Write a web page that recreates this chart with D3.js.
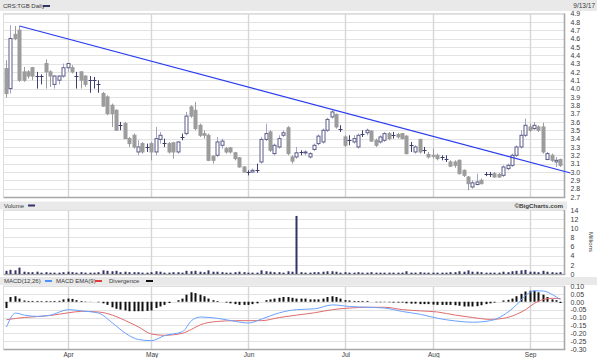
<!DOCTYPE html>
<html><head><meta charset="utf-8">
<script src="https://cdn.jsdelivr.net/npm/d3@7/dist/d3.min.js"></script>
<style>
body{margin:0;background:#fff}
svg{display:block}
text{font-family:"Liberation Sans",Arial,sans-serif;fill:#3a3a3a}
</style></head><body>
<svg id="c" width="597" height="358"></svg>
<script>
const dates = ["2017-03-14","2017-03-15","2017-03-16","2017-03-17","2017-03-20","2017-03-21","2017-03-22","2017-03-23","2017-03-24","2017-03-27","2017-03-28","2017-03-29","2017-03-30","2017-03-31",
"2017-04-03","2017-04-04","2017-04-05","2017-04-06","2017-04-07","2017-04-10","2017-04-11","2017-04-12","2017-04-13","2017-04-17","2017-04-18","2017-04-19","2017-04-20","2017-04-21","2017-04-24","2017-04-25","2017-04-26","2017-04-27","2017-04-28",
"2017-05-01","2017-05-02","2017-05-03","2017-05-04","2017-05-05","2017-05-08","2017-05-09","2017-05-10","2017-05-11","2017-05-12","2017-05-15","2017-05-16","2017-05-17","2017-05-18","2017-05-19","2017-05-23","2017-05-24","2017-05-25","2017-05-26","2017-05-29","2017-05-30","2017-05-31",
"2017-06-01","2017-06-02","2017-06-05","2017-06-06","2017-06-07","2017-06-08","2017-06-09","2017-06-12","2017-06-13","2017-06-14","2017-06-15","2017-06-16","2017-06-19","2017-06-20","2017-06-21","2017-06-22","2017-06-23","2017-06-26","2017-06-27","2017-06-28","2017-06-29","2017-06-30",
"2017-07-04","2017-07-05","2017-07-06","2017-07-07","2017-07-10","2017-07-11","2017-07-12","2017-07-13","2017-07-14","2017-07-17","2017-07-18","2017-07-19","2017-07-20","2017-07-21","2017-07-24","2017-07-25","2017-07-26","2017-07-27","2017-07-28","2017-07-31",
"2017-08-01","2017-08-02","2017-08-03","2017-08-04","2017-08-08","2017-08-09","2017-08-10","2017-08-11","2017-08-14","2017-08-15","2017-08-16","2017-08-17","2017-08-18","2017-08-21","2017-08-22","2017-08-23","2017-08-24","2017-08-25","2017-08-28","2017-08-29","2017-08-30","2017-08-31",
"2017-09-01","2017-09-05","2017-09-06","2017-09-07","2017-09-08","2017-09-11","2017-09-12","2017-09-13"];

const open  = [4.24,4.00,4.65,4.70,4.20,4.20,4.25,4.15,4.15,4.30,4.20,4.05,4.10,4.15,4.25,4.25,4.15,4.20,4.15,4.10,4.10,4.05,3.94,3.90,3.80,3.74,3.56,3.58,3.40,3.44,3.24,3.34,3.30,
3.34,3.24,3.39,3.35,3.34,3.35,3.24,3.42,3.46,3.78,3.74,3.56,3.46,3.44,3.19,3.20,3.32,3.28,3.29,3.23,3.17,3.06,
3.00,3.00,3.02,3.12,3.39,3.48,3.22,3.30,3.44,3.53,3.18,3.18,3.24,3.23,3.18,3.27,3.34,3.36,3.50,3.66,3.69,3.52,
3.42,3.38,3.36,3.30,3.46,3.47,3.49,3.38,3.36,3.38,3.46,3.44,3.45,3.46,3.43,3.32,3.24,3.39,3.26,3.21,
3.20,3.20,3.18,3.16,3.12,3.12,3.14,3.02,2.94,2.82,2.85,2.90,2.98,2.97,2.98,2.97,2.96,3.04,3.08,3.20,3.30,3.44,
3.54,3.52,3.54,3.54,3.15,3.20,3.12,3.15];
const high  = [4.34,4.76,4.75,4.75,4.26,4.22,4.26,4.20,4.17,4.35,4.22,4.16,4.16,4.30,4.30,4.28,4.20,4.21,4.16,4.15,4.14,4.10,3.96,3.92,3.82,3.75,3.60,3.60,3.42,3.46,3.38,3.36,3.34,
3.36,3.54,3.48,3.40,3.36,3.36,3.37,3.46,3.72,3.80,3.84,3.58,3.50,3.46,3.20,3.42,3.40,3.30,3.30,3.24,3.18,3.07,
3.02,3.04,3.10,3.42,3.58,3.50,3.34,3.44,3.50,3.55,3.20,3.30,3.26,3.26,3.24,3.34,3.45,3.52,3.65,3.74,3.70,3.56,
3.44,3.44,3.44,3.46,3.50,3.52,3.50,3.40,3.44,3.48,3.48,3.48,3.47,3.47,3.44,3.36,3.32,3.40,3.30,3.24,
3.28,3.22,3.20,3.20,3.14,3.14,3.15,3.03,2.95,2.90,2.98,2.92,3.00,3.00,3.00,2.99,3.08,3.10,3.22,3.32,3.50,3.64,
3.58,3.60,3.56,3.59,3.24,3.22,3.18,3.16];
const low   = [3.89,3.94,4.58,4.08,4.08,4.12,4.10,4.00,4.05,4.00,4.02,4.00,4.05,4.13,4.20,4.18,4.00,4.00,4.02,3.95,4.00,3.95,3.78,3.68,3.54,3.50,3.50,3.40,3.30,3.28,3.20,3.22,3.24,
3.14,3.20,3.34,3.30,3.22,3.16,3.22,3.38,3.44,3.65,3.50,3.42,3.40,3.13,3.10,3.18,3.28,3.22,3.22,3.14,3.05,2.99,
2.96,2.99,2.99,3.10,3.37,3.24,3.20,3.28,3.42,3.20,3.10,3.16,3.20,3.20,3.16,3.25,3.32,3.34,3.48,3.64,3.52,3.48,
3.30,3.32,3.34,3.28,3.42,3.44,3.36,3.30,3.34,3.36,3.38,3.40,3.40,3.39,3.21,3.24,3.22,3.22,3.22,3.16,
3.16,3.14,3.14,3.12,3.06,3.05,2.97,2.94,2.78,2.80,2.84,2.85,2.95,2.94,2.93,2.93,2.94,3.02,3.06,3.18,3.28,3.42,
3.48,3.50,3.48,3.22,3.14,3.12,3.06,3.06];
const close = [3.94,4.60,4.60,4.10,4.10,4.15,4.15,4.15,4.15,4.20,4.15,4.15,4.15,4.25,4.30,4.20,4.15,4.10,4.05,4.10,4.10,4.05,3.79,3.70,3.70,3.50,3.56,3.40,3.34,3.30,3.30,3.24,3.30,
3.24,3.40,3.44,3.35,3.24,3.24,3.36,3.42,3.67,3.67,3.52,3.44,3.44,3.14,3.14,3.36,3.37,3.24,3.24,3.16,3.06,3.00,
3.00,3.02,3.02,3.39,3.46,3.26,3.32,3.40,3.47,3.22,3.13,3.23,3.24,3.24,3.22,3.32,3.43,3.50,3.63,3.72,3.54,3.52,
3.32,3.38,3.40,3.44,3.46,3.50,3.37,3.32,3.42,3.46,3.40,3.44,3.42,3.40,3.22,3.32,3.30,3.24,3.26,3.18,
3.19,3.16,3.18,3.16,3.07,3.08,2.98,2.96,2.86,2.87,2.88,2.86,2.98,2.97,2.94,2.94,3.06,3.08,3.20,3.30,3.44,3.56,
3.50,3.56,3.50,3.24,3.22,3.14,3.14,3.08];

const volume = [0.7,0.9,0.8,1.4,0.5,0.4,0.4,0.5,0.3,0.4,0.3,0.3,0.3,0.4,0.5,0.4,0.3,0.4,0.3,0.3,0.3,0.4,0.8,0.7,0.6,0.7,0.4,0.5,0.4,0.4,0.4,0.3,0.3,
0.4,0.6,0.5,0.3,0.3,0.4,0.4,0.3,0.7,0.6,0.7,0.5,0.4,0.8,0.5,0.5,0.4,0.3,0.3,0.4,0.5,0.4,
0.3,0.3,0.3,0.8,0.6,0.5,0.4,0.4,0.3,0.6,0.5,12.7,0.4,0.3,0.3,0.4,0.4,0.5,0.6,0.6,0.5,0.3,
0.4,0.3,0.3,0.4,0.3,0.3,0.4,0.3,0.3,0.3,0.3,0.3,0.3,0.3,0.6,0.3,0.3,0.4,0.3,0.3,
0.3,0.3,0.3,0.3,0.4,0.4,0.6,0.5,0.8,0.5,0.5,0.4,0.3,0.3,0.3,0.3,0.5,0.4,0.6,0.7,0.8,0.9,
0.5,0.5,0.4,0.7,0.5,0.4,0.3,0.4];

const macdDates = ["2017-03-14","2017-03-16","2017-03-20","2017-03-23","2017-03-28","2017-04-03","2017-04-06","2017-04-12","2017-04-18","2017-04-21","2017-04-26","2017-05-01","2017-05-04","2017-05-10","2017-05-12","2017-05-16","2017-05-23","2017-05-29","2017-06-01","2017-06-06","2017-06-12","2017-06-16","2017-06-22","2017-06-28","2017-07-05","2017-07-11","2017-07-17","2017-07-21","2017-07-27","2017-08-02","2017-08-09","2017-08-15","2017-08-21","2017-08-24","2017-08-29","2017-08-31","2017-09-05","2017-09-07","2017-09-11","2017-09-13"];
const macdLine = [-0.160,-0.072,-0.085,-0.093,-0.085,-0.050,-0.058,-0.072,-0.135,-0.200,-0.240,-0.247,-0.215,-0.190,-0.120,-0.097,-0.105,-0.125,-0.135,-0.110,-0.070,-0.050,-0.045,-0.020,-0.030,-0.035,-0.040,-0.062,-0.080,-0.105,-0.122,-0.130,-0.120,-0.085,-0.020,0.040,0.070,0.068,0.045,0.013];
const signalLine = [-0.114,-0.106,-0.100,-0.094,-0.087,-0.070,-0.061,-0.065,-0.085,-0.120,-0.160,-0.205,-0.213,-0.200,-0.175,-0.146,-0.125,-0.120,-0.120,-0.120,-0.100,-0.085,-0.070,-0.050,-0.040,-0.035,-0.035,-0.050,-0.058,-0.065,-0.085,-0.100,-0.112,-0.105,-0.080,-0.050,-0.010,0.015,0.022,0.020];
const divergence = [-0.040,0.030,0.035,0.020,0.008,0.005,0.005,0.005,0.004,0.005,0.004,0.005,0.006,0.015,0.020,0.018,0.010,0.005,0.002,0.001,0.000,-0.003,-0.010,-0.020,-0.035,-0.045,-0.050,-0.055,-0.060,-0.060,-0.060,-0.060,-0.058,
-0.055,-0.040,-0.030,-0.020,-0.008,0.000,0.010,0.020,0.045,0.060,0.055,0.045,0.035,0.020,0.010,0.005,0.000,-0.005,-0.010,-0.015,-0.020,-0.020,
-0.020,-0.015,-0.010,0.000,0.010,0.015,0.020,0.025,0.030,0.030,0.025,0.020,0.020,0.020,0.015,0.015,0.015,0.020,0.030,0.035,0.030,0.020,
0.010,0.008,0.005,0.005,0.005,0.005,0.000,-0.003,-0.003,-0.002,-0.003,-0.005,-0.005,-0.005,-0.010,-0.012,-0.012,-0.015,-0.015,-0.015,
-0.018,-0.020,-0.020,-0.020,-0.020,-0.022,-0.025,-0.030,-0.030,-0.030,-0.028,-0.022,-0.015,-0.010,-0.005,0.000,0.008,0.012,0.020,0.035,0.050,0.065,
0.070,0.070,0.060,0.045,0.030,0.015,0.010,-0.008];

const priceTicks = [4.9,4.8,4.7,4.6,4.5,4.4,4.3,4.2,4.1,4.0,3.9,3.8,3.7,3.6,3.5,3.4,3.3,3.2,3.1,3.0,2.9,2.8,2.7];
const volTicks = [0,2,4,6,8,10,12,14];
const macdTicks = [0.10,0.05,0.00,-0.05,-0.10,-0.15,-0.20,-0.25,-0.30];
const monthLabels = ["Apr","May","Jun","Jul","Aug","Sep"];
const trendDates = ["2017-03-17","2017-09-13"];
const trendValues = [4.75,3.02];
const symbol = "CRS:TGB Daily", lastDate = "9/13/17";

// ---------- drawing ----------
const svg = d3.select("#c");
const L = 3.5, R = 564.5;
const xi = d3.scaleLinear().domain([0, dates.length-1]).range([6, 560.4]);
const x = d => Math.round(xi(dates.indexOf(d))) + 0.5;
const yP = d3.scaleLinear().domain([2.7,4.9]).range([197,13.5]);
const yV = d3.scaleLinear().domain([0,14]).range([274,210]);
const yM = d3.scaleLinear().domain([-0.3,0.1]).range([349,286]);
const panels = [{t:13.5,b:197},{t:210,b:274},{t:286,b:349}];

// header strips
svg.append("rect").attr("x",0).attr("y",0).attr("width",597).attr("height",11).attr("fill","#e9e9e9");
svg.append("rect").attr("x",0).attr("y",201.5).attr("width",567).attr("height",8).attr("fill","#e9e9e9");
svg.append("rect").attr("x",0).attr("y",277).attr("width",597).attr("height",8).attr("fill","#e9e9e9");

// horizontal grids
const hgrid = (ticks, y) => svg.append("g").selectAll("line").data(ticks).join("line")
  .attr("x1",L).attr("x2",R).attr("y1",d=>Math.round(y(d))+0.5).attr("y2",d=>Math.round(y(d))+0.5)
  .attr("stroke","#e3e3e3").attr("stroke-width",1);
hgrid(priceTicks, yP); hgrid(volTicks, yV); hgrid(macdTicks, yM);

// month starts
const monthStarts = dates.filter((d,i)=> i>0 && d.slice(5,7)!==dates[i-1].slice(5,7));
panels.forEach(p=>{
  svg.append("g").selectAll("line").data(monthStarts).join("line")
    .attr("x1",d=>x(d)).attr("x2",d=>x(d)).attr("y1",p.t).attr("y2",p.b)
    .attr("stroke","#d6d6d6").attr("stroke-width",1.4);
});

// frames
panels.forEach(p=>{
  svg.append("line").attr("x1",L).attr("x2",R).attr("y1",p.t).attr("y2",p.t).attr("stroke","#dcdcdc");
  svg.append("line").attr("x1",L).attr("x2",L).attr("y1",p.t).attr("y2",p.b).attr("stroke","#dcdcdc");
  svg.append("line").attr("x1",R).attr("x2",R).attr("y1",p.t).attr("y2",p.b+1).attr("stroke","#a8a8a8").attr("stroke-width",1.6);
  svg.append("line").attr("x1",L).attr("x2",R+0.8).attr("y1",p.b+0.5).attr("y2",p.b+0.5).attr("stroke","#a8a8a8").attr("stroke-width",1.6);
});

// candles
const cd = dates.map((d,i)=>({d,o:open[i],h:high[i],l:low[i],c:close[i]}));
const g = svg.append("g");
g.selectAll("line.w").data(cd).join("line").attr("class","w")
  .attr("x1",d=>x(d.d)).attr("x2",d=>x(d.d))
  .attr("y1",d=>yP(d.h)).attr("y2",d=>yP(d.l))
  .attr("stroke",d=> d.o===d.c ? "#3e3e70" : (d.c>d.o ? "#a4a4c8" : "#9c9c9c")).attr("stroke-width",1);
g.selectAll("rect.b").data(cd.filter(d=>d.o!==d.c)).join("rect").attr("class","b")
  .attr("x",d=>x(d.d)-1.5).attr("width",3)
  .attr("y",d=>yP(Math.max(d.o,d.c))).attr("height",d=>Math.max(1,Math.abs(yP(d.o)-yP(d.c))))
  .attr("fill",d=>d.c>d.o ? "#fff" : "#9c9c9c")
  .attr("stroke",d=>d.c>d.o ? "#5a5a88" : "#9c9c9c").attr("stroke-width",1);
g.selectAll("line.dj").data(cd.filter(d=>d.o===d.c)).join("line").attr("class","dj")
  .attr("x1",d=>x(d.d)-2).attr("x2",d=>x(d.d)+2)
  .attr("y1",d=>Math.round(yP(d.o))+0.5).attr("y2",d=>Math.round(yP(d.o))+0.5)
  .attr("stroke","#3e3e70").attr("stroke-width",1);

// trend line (extended a little beyond last bar like the original)
const t0 = {x:x(trendDates[0]), y:yP(trendValues[0])};
const t1 = {x:x(trendDates[1]), y:yP(trendValues[1])};
const slope = (t1.y-t0.y)/(t1.x-t0.x);
const tEndX = R + 6;
svg.append("line").attr("x1",t0.x).attr("y1",t0.y).attr("x2",tEndX).attr("y2",t0.y+slope*(tEndX-t0.x))
  .attr("stroke","#2a3cf0").attr("stroke-width",1.2);

// volume bars
svg.append("g").selectAll("rect").data(dates.map((d,i)=>({d,v:volume[i]}))).join("rect")
  .attr("x",d=>x(d.d)-1).attr("width",2)
  .attr("y",d=>yV(d.v)).attr("height",d=>yV(0)-yV(d.v)).attr("fill","#333366");

// divergence bars
svg.append("g").selectAll("rect").data(dates.map((d,i)=>({d,v:divergence[i]}))).join("rect")
  .attr("x",d=>x(d.d)-1).attr("width",2)
  .attr("y",d=>Math.min(yM(0),yM(d.v))).attr("height",d=>Math.abs(yM(d.v)-yM(0)))
  .attr("fill","#111");

// MACD lines
const md = macdDates.map((d,i)=>({d,m:macdLine[i],s:signalLine[i]}));
svg.append("path").datum(md).attr("fill","none").attr("stroke","#e06c6c").attr("stroke-width",1)
  .attr("d",d3.line().x(d=>x(d.d)).y(d=>yM(d.s)).curve(d3.curveMonotoneX));
svg.append("path").datum(md).attr("fill","none").attr("stroke","#6aa2ff").attr("stroke-width",1)
  .attr("d",d3.line().x(d=>x(d.d)).y(d=>yM(d.m)).curve(d3.curveMonotoneX));

// right axes
const styleAxis = sel => { sel.select(".domain").remove(); sel.selectAll(".tick line").remove();
  sel.selectAll("text").attr("font-size",7).attr("fill","#3a3a3a").attr("font-family","Liberation Sans, Arial, sans-serif"); };
svg.append("g").attr("transform",`translate(${R},0)`)
  .call(d3.axisRight(yP).tickValues(priceTicks).tickFormat(d3.format(".1f")).tickSize(0).tickPadding(6)).call(styleAxis);
svg.append("g").attr("transform",`translate(${R},0)`)
  .call(d3.axisRight(yV).tickValues(volTicks).tickFormat(d3.format("d")).tickSize(0).tickPadding(6)).call(styleAxis);
svg.append("g").attr("transform",`translate(${R},0)`)
  .call(d3.axisRight(yM).tickValues(macdTicks).tickFormat(d=>d3.format(".2f")(d).replace("−","-")).tickSize(0).tickPadding(6)).call(styleAxis);

// bottom month axis
const xb = d3.scalePoint().domain(dates).range([xi(0), xi(dates.length-1)]);
svg.append("g").attr("transform","translate(0.5,349)")
  .call(d3.axisBottom(xb).tickValues(monthStarts).tickFormat((d,i)=>monthLabels[i]).tickSize(0).tickPadding(3))
  .call(sel=>{ sel.select(".domain").remove(); sel.selectAll("text").attr("font-size",6.5).attr("fill","#3a3a3a").attr("font-family","Liberation Sans, Arial, sans-serif"); });

// headers & legends
const txt = (s,xx,yy,opt={}) => svg.append("text").attr("x",xx).attr("y",yy).attr("font-size",opt.fs||6)
  .attr("text-anchor",opt.a||"start").attr("font-weight",opt.w||"normal").attr("fill",opt.c||"#3a3a3a").text(s);
const sw = (xx,yy,c) => svg.append("rect").attr("x",xx).attr("y",yy).attr("width",7).attr("height",2).attr("fill",c);
txt(symbol,3,8); sw(43,5,"#333366");
txt(lastDate,595,8,{a:"end",fs:6.5});
txt("Volume",4,207.5); sw(28,204.5,"#333366");
txt("\u00A9BigCharts.com",563,207.5,{a:"end",w:"bold",c:"#7a7a7a",fs:6.2});
txt("MACD(12,26)",4,283); sw(45,280,"#4d90ff");
txt("MACD EMA(9)",56,283); sw(95,280,"#e03c3c");
txt("Divergence",109,283); sw(146,280,"#111");
svg.append("text").attr("transform","translate(589,242) rotate(90)").attr("text-anchor","middle")
  .attr("font-size",6).attr("fill","#3a3a3a").text("Millions");
</script>
</body></html>
